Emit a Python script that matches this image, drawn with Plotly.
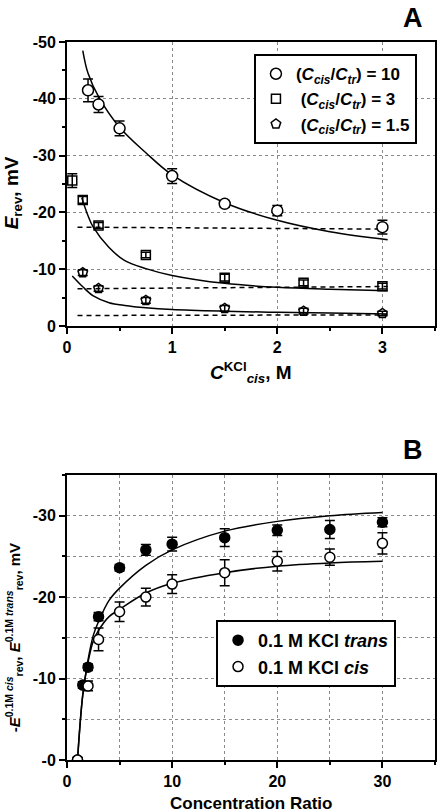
import plotly.graph_objects as go

# ---------------- Panel A data ----------------
circ_x = [0.2, 0.3, 0.5, 1.0, 1.5, 2.0, 3.0]
circ_y = [-41.5, -39.0, -34.8, -26.4, -21.5, -20.3, -17.4]
circ_err = [2.0, 1.4, 1.3, 1.3, 0.6, 0.9, 1.2]

sq_x = [0.05, 0.15, 0.3, 0.75, 1.5, 2.25, 3.0]
sq_y = [-25.6, -22.2, -17.7, -12.5, -8.5, -7.6, -7.0]
sq_err = [1.2, 0.6, 0.5, 0.5, 0.6, 0.5, 0.5]

pent_x = [0.15, 0.3, 0.75, 1.5, 2.25, 3.0]
pent_y = [-9.4, -6.6, -4.5, -3.1, -2.6, -2.2]
pent_err = [0.5, 0.5, 0.5, 0.5, 0.5, 0.4]

# fitted curves
fit10_x = [0.15, 0.2, 0.3, 0.5, 0.75, 1.0, 1.5, 2.0, 2.5, 3.05]
fit10_y = [-48.5, -44.5, -40.4, -35.0, -30.5, -26.6, -21.7, -18.6, -16.6, -15.2]
fit3_x = [0.14, 0.2, 0.25, 0.4, 0.55, 0.75, 1.0, 1.5, 2.0, 2.5, 3.05]
fit3_y = [-22.6, -19.4, -17.4, -13.8, -11.5, -10.1, -8.9, -7.5, -6.8, -6.45, -6.2]
fit15_x = [0.05, 0.15, 0.25, 0.4, 0.55, 0.75, 1.0, 1.5, 2.0, 2.5, 3.05]
fit15_y = [-8.8, -6.9, -5.3, -4.1, -3.6, -3.2, -2.9, -2.6, -2.4, -2.3, -2.1]

# dashed reference lines
dash_x = [0.1, 3.05]
dash10_y = [-17.4, -17.05]
dash3_y = [-6.55, -6.95]
dash15_y = [-1.85, -1.95]

# ---------------- Panel B data ----------------
trans_x = [1, 1.5, 2, 3, 5, 7.5, 10, 15, 20, 25, 30]
trans_y = [0, -9.2, -11.4, -17.6, -23.6, -25.8, -26.5, -27.3, -28.2, -28.3, -29.2]
trans_err = [0.3, 0.4, 0.4, 0.5, 0.4, 0.65, 0.85, 1.1, 0.65, 1.1, 0.55]

cis_x = [1, 2, 3, 5, 7.5, 10, 15, 20, 25, 30]
cis_y = [0, -9.1, -14.8, -18.2, -20.0, -21.6, -23.0, -24.4, -24.9, -26.6]
cis_err = [0.3, 0.6, 1.4, 1.2, 1.1, 1.15, 1.6, 1.2, 1.0, 1.3]

fitT_x = [1, 1.5, 2, 2.5, 3, 4, 5, 7.5, 10, 15, 20, 25, 30]
fitT_y = [0, -8.0, -12.3, -15.3, -17.0, -19.6, -21.1, -23.9, -25.8, -28.1, -29.3, -30.0, -30.4]
fitC_x = [1, 1.5, 2, 2.5, 3, 4, 5, 7.5, 10, 15, 20, 25, 30]
fitC_y = [0, -8.0, -12.0, -14.6, -15.9, -17.6, -18.5, -20.5, -21.7, -23.0, -23.8, -24.2, -24.4]

xticksA = [0, 1, 2, 3]
yticksA = [0, -10, -20, -30, -40, -50]
yticktextA = ["0", "-10", "-20", "-30", "-40", "-50"]
xticksB = [0, 10, 20, 30]
yticksB = [0, -10, -20, -30]
yticktextB = ["-0", "-10", "-20", "-30"]

FONT = "Liberation Sans, Arial, sans-serif"
fig = go.Figure()

def line(x, y, xa, ya, dash=None):
    fig.add_trace(go.Scatter(x=x, y=y, mode="lines", xaxis=xa, yaxis=ya,
                             line=dict(color="black", width=1.5, shape="spline", dash=dash),
                             showlegend=False, hoverinfo="skip"))

for fx, fy in [(fit10_x, fit10_y), (fit3_x, fit3_y), (fit15_x, fit15_y)]:
    line(fx, fy, "x", "y")
for dy in [dash10_y, dash3_y, dash15_y]:
    line(dash_x, dy, "x", "y", dash="5px,4px")
for fx, fy in [(fitT_x, fitT_y), (fitC_x, fitC_y)]:
    line(fx, fy, "x2", "y2")

def pts(x, y, e, xa, ya, name, symbol, size, fill, legend):
    fig.add_trace(go.Scatter(
        x=x, y=y, mode="markers", xaxis=xa, yaxis=ya, name=name, legend=legend,
        marker=dict(symbol=symbol, size=size, color=fill, line=dict(color="black", width=1.5)),
        error_y=dict(type="data", array=e, visible=True, color="black", thickness=1.5, width=5)))

pts(circ_x, circ_y, circ_err, "x", "y",
    "(<i>C</i><sub><i>cis</i></sub>/<i>C</i><sub><i>tr</i></sub>) = 10", "circle", 11, "white", "legend")
pts(sq_x, sq_y, sq_err, "x", "y",
    " (<i>C</i><sub><i>cis</i></sub>/<i>C</i><sub><i>tr</i></sub>) = 3", "square-open", 9, "black", "legend")
pts(pent_x, pent_y, pent_err, "x", "y",
    " (<i>C</i><sub><i>cis</i></sub>/<i>C</i><sub><i>tr</i></sub>) = 1.5", "pentagon-open", 10, "black", "legend")
pts(trans_x, trans_y, trans_err, "x2", "y2", "0.1 M KCl <i>trans</i>", "circle", 10, "black", "legend2")
pts(cis_x, cis_y, cis_err, "x2", "y2", "0.1 M KCl <i>cis</i>", "circle", 10, "white", "legend2")

tickfont = dict(family=FONT, size=16, color="black", weight="bold")
axis_common = dict(showline=True, linecolor="black", linewidth=2, mirror=True,
                   ticks="outside", ticklen=6, tickwidth=1.5, tickcolor="black",
                   tickfont=tickfont, zeroline=False,
                   gridcolor="#8a8a8a", griddash="dot", gridwidth=1)

fig.update_layout(
    width=442, height=812,
    margin=dict(l=67, r=5, t=42, b=52),
    paper_bgcolor="white", plot_bgcolor="white",
    font=dict(family=FONT, color="black"),
    xaxis=dict(domain=[0, 1], anchor="y", range=[0, 3.5], tickvals=xticksA, showgrid=True,
               minor=dict(dtick=0.5, ticks="outside", ticklen=3, tickcolor="black", showgrid=False),
               **axis_common),
    yaxis=dict(domain=[0.6045, 1.0], anchor="x", range=[0, -50], tickvals=yticksA,
               ticktext=yticktextA, showgrid=True,
               minor=dict(dtick=5, ticks="outside", ticklen=3, tickcolor="black", showgrid=False),
               **axis_common),
    xaxis2=dict(domain=[0, 1], anchor="y2", range=[0, 35], tickvals=xticksB, showgrid=True,
                minor=dict(dtick=5, ticks="outside", ticklen=3, tickcolor="black", showgrid=True,
                           gridcolor="#8a8a8a", griddash="dot", gridwidth=1),
                **axis_common),
    yaxis2=dict(domain=[0, 0.397], anchor="x2", range=[0, -35], tickvals=yticksB,
                ticktext=yticktextB, showgrid=True,
                minor=dict(dtick=5, ticks="outside", ticklen=3, tickcolor="black", showgrid=True,
                           gridcolor="#8a8a8a", griddash="dot", gridwidth=1),
                **axis_common),
    legend=dict(x=0.508, y=0.983, xanchor="left", yanchor="top",
                bgcolor="white", bordercolor="black", borderwidth=2,
                font=dict(family=FONT, size=17, color="black", weight="bold"), tracegroupgap=0),
    legend2=dict(x=0.405, y=0.195, xanchor="left", yanchor="top",
                 bgcolor="white", bordercolor="black", borderwidth=2,
                 font=dict(family=FONT, size=18, color="black", weight="bold"), tracegroupgap=0),
    showlegend=True,
)

def ann(text, x, y, size, angle=0, xanchor="center"):
    fig.add_annotation(text=text, x=x, y=y, xref="paper", yref="paper", showarrow=False,
                       textangle=angle, xanchor=xanchor, yanchor="middle",
                       font=dict(family=FONT, size=size, color="black", weight="bold"))

ann("A", 0.94, 1.034, 27)
ann("B", 0.94, 0.432, 27)
ann("<i>C</i><sup>KCl</sup><sub><i>cis</i></sub>, M", 0.5, 0.540, 19)
ann("<i>E</i><sub>rev</sub>, mV", -0.148, 0.79, 19, -90)
ann("Concentration Ratio", 0.5, -0.061, 17)
ann("-<i>E</i><sup>0.1M <i>cis</i></sup><sub>rev</sub>, <i>E</i><sup>0.1M <i>trans</i></sup><sub>rev</sub>, mV",
    -0.143, 0.17, 15, -90)

# remove the default 8px body margin so the 442x812 figure fills the window exactly
fig.write_html("out.html", config={"displayModeBar": False},
               post_script="document.body.style.margin='0';")
